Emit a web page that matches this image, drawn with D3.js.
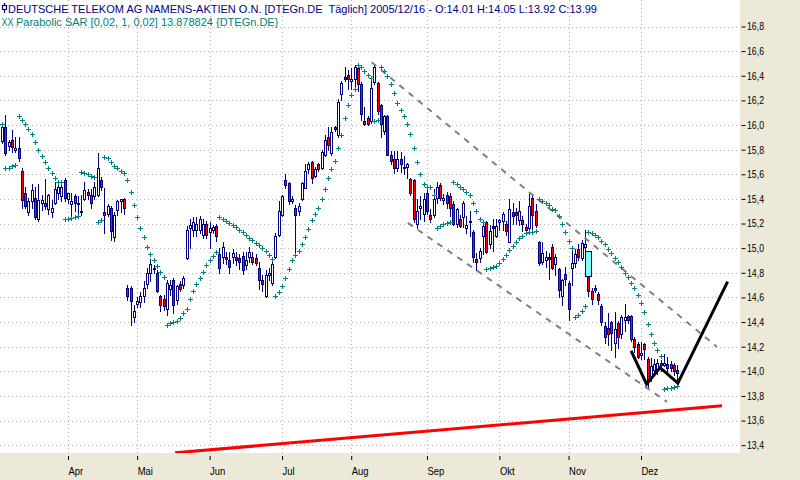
<!DOCTYPE html>
<html><head><meta charset="utf-8">
<script src="https://cdn.jsdelivr.net/npm/d3@7"></script>
<style>
html,body{margin:0;padding:0;background:#ECE9D8;}
svg{display:block;font-family:"Liberation Sans",Arial,sans-serif;}
</style></head><body>
<svg id="chart" width="800" height="480"></svg>
<script>
// ---- data (day index 0 = 1 Apr 2005, trading days) ----
const firstDay = -20;
const monthLabels = ["Apr","Mai","Jun","Jul","Aug","Sep","Okt","Nov","Dez"];
const monthStarts = [0,21,43,65,86,109,131,152,174];
const yTicks = [13.4,13.6,13.8,14.0,14.2,14.4,14.6,14.8,15.0,15.2,15.4,15.6,15.8,16.0,16.2,16.4,16.6,16.8];
const titleLine = "DEUTSCHE TELEKOM AG NAMENS-AKTIEN O.N. [DTEGn.DE  Täglich] 2005/12/16 - O:14.01 H:14.05 L:13.92 C:13.99";
const titleSar = "Parabolic SAR [0,02, 1, 0,02] 13.878824 {DTEGn.DE}";

const opens = [
15.87,15.98,15.83,15.88,15.80,15.81,15.63,15.45,15.29,15.38,
15.41,15.24,15.37,15.37,15.32,15.29,15.37,15.45,15.42,15.55,
15.40,15.36,15.42,15.37,15.29,15.40,15.46,15.43,15.42,15.43,
15.55,15.29,15.28,15.33,15.09,15.31,15.38,15.40,14.68,14.68,
14.44,14.55,14.56,14.61,14.71,14.80,14.84,14.80,14.61,14.59,
14.51,14.67,14.74,14.58,14.71,14.70,14.92,15.16,15.15,15.15,
15.15,15.11,15.20,15.13,15.15,15.18,14.95,14.93,14.93,14.90,
14.93,14.93,14.92,14.94,14.86,14.93,14.93,14.92,14.84,14.74,
14.61,14.78,14.72,14.93,15.11,15.27,15.55,15.53,15.38,15.33,
15.30,15.40,15.49,15.64,15.70,15.59,15.68,15.65,15.76,15.90,
15.77,15.98,15.92,16.25,16.39,16.41,16.36,16.37,16.46,16.33,
16.03,16.06,16.03,16.35,16.34,16.16,15.95,16.07,15.76,15.72,
15.65,15.72,15.65,15.66,15.56,15.55,15.20,15.33,15.28,15.45,
15.27,15.27,15.41,15.51,15.39,15.43,15.42,15.36,15.20,15.24,
15.25,15.16,15.22,15.13,14.91,14.92,15.10,15.21,15.03,15.18,
15.10,15.21,15.22,15.20,15.05,15.29,15.29,15.23,15.23,15.17,
15.16,15.41,15.30,15.05,14.89,14.90,14.93,15.01,14.87,14.83,
14.61,14.79,14.72,14.84,14.88,14.99,14.92,15.01,14.77,14.65,
14.68,14.63,14.53,14.37,14.35,14.40,14.23,14.39,14.30,14.42,
14.45,14.45,14.26,14.22,14.13,14.22,14.10,13.96,14.01,14.02,
14.07,14.05,14.06,14.06,14.05,14.01];
const highs = [
16.02,16.08,15.88,15.96,15.90,15.90,15.65,15.50,15.41,15.52,
15.50,15.52,15.43,15.56,15.44,15.39,15.54,15.55,15.53,15.57,
15.45,15.45,15.44,15.42,15.43,15.54,15.48,15.48,15.54,15.77,
15.58,15.49,15.36,15.34,15.29,15.39,15.40,15.41,14.70,14.69,
14.54,14.60,14.64,14.73,14.84,14.91,14.86,14.82,14.62,14.62,
14.74,14.74,14.76,14.70,14.73,14.77,15.18,15.24,15.25,15.25,
15.26,15.24,15.22,15.21,15.19,15.20,15.00,15.05,14.97,14.97,
14.99,14.97,14.95,14.97,14.97,15.01,14.97,14.95,14.89,14.78,
14.82,14.84,14.90,15.12,15.38,15.43,15.60,15.54,15.42,15.35,
15.37,15.54,15.68,15.70,15.71,15.66,15.69,15.80,15.92,15.98,
15.98,15.99,16.21,16.36,16.47,16.45,16.46,16.49,16.50,16.35,
16.15,16.07,16.38,16.49,16.35,16.17,16.08,16.08,15.79,15.79,
15.79,15.78,15.75,15.69,15.57,15.56,15.40,15.42,15.45,15.50,
15.32,15.48,15.54,15.53,15.44,15.46,15.45,15.38,15.33,15.27,
15.38,15.26,15.30,15.15,14.96,15.00,15.20,15.22,15.19,15.24,
15.24,15.24,15.29,15.22,15.40,15.37,15.33,15.38,15.26,15.20,
15.44,15.43,15.36,15.06,15.05,14.98,14.96,15.03,14.95,14.84,
14.75,14.85,14.73,14.99,14.99,15.03,15.07,15.15,14.77,14.68,
14.70,14.64,14.55,14.40,14.47,14.41,14.48,14.41,14.46,14.55,
14.46,14.46,14.28,14.24,14.24,14.23,14.12,14.11,14.10,14.10,
14.09,14.14,14.12,14.08,14.07,14.05];
const lows = [
15.85,15.76,15.80,15.78,15.78,15.71,15.33,15.33,15.27,15.33,
15.24,15.22,15.31,15.32,15.28,15.25,15.36,15.40,15.38,15.38,
15.37,15.24,15.30,15.25,15.27,15.39,15.40,15.33,15.40,15.42,
15.47,15.12,15.26,15.07,15.06,15.27,15.29,15.28,14.58,14.38,
14.40,14.52,14.52,14.56,14.68,14.73,14.80,14.64,14.49,14.50,
14.46,14.62,14.47,14.55,14.65,14.68,14.91,15.00,15.10,15.10,
15.12,15.08,15.08,15.00,15.12,15.06,14.80,14.88,14.87,14.80,
14.88,14.86,14.83,14.79,14.83,14.89,14.87,14.86,14.67,14.65,
14.60,14.74,14.70,14.92,15.10,15.26,15.49,15.36,15.37,14.97,
15.27,15.39,15.49,15.61,15.53,15.58,15.63,15.64,15.75,15.80,
15.76,15.95,15.90,16.20,16.36,16.29,16.29,16.28,16.28,16.04,
16.00,16.00,16.02,16.33,16.09,15.90,15.93,15.76,15.68,15.61,
15.63,15.62,15.60,15.57,15.43,15.21,15.16,15.24,15.22,15.28,
15.21,15.25,15.37,15.39,15.36,15.33,15.26,15.19,15.17,15.17,
15.17,15.12,15.10,14.89,14.82,14.89,14.95,14.96,15.00,14.98,
15.09,15.15,15.15,15.11,15.05,15.20,15.20,15.19,15.14,15.12,
15.15,15.14,15.17,14.86,14.87,14.85,14.75,14.83,14.78,14.60,
14.54,14.70,14.42,14.70,14.85,14.90,14.90,14.98,14.61,14.55,
14.64,14.55,14.38,14.23,14.21,14.17,14.12,14.19,14.27,14.33,
14.39,14.25,14.16,14.11,14.10,14.10,13.855,13.92,13.99,13.98,
14.00,14.04,13.99,14.00,13.97,13.92];
const closes = [
15.98,15.77,15.86,15.82,15.81,15.73,15.39,15.34,15.38,15.47,
15.25,15.39,15.39,15.34,15.43,15.33,15.48,15.50,15.50,15.41,
15.45,15.38,15.37,15.36,15.30,15.47,15.43,15.37,15.50,15.65,
15.50,15.27,15.34,15.14,15.27,15.38,15.40,15.33,14.61,14.57,
14.49,14.57,14.61,14.68,14.80,14.87,14.83,14.65,14.54,14.53,
14.72,14.70,14.54,14.69,14.67,14.76,15.15,15.19,15.21,15.20,
15.24,15.20,15.11,15.16,15.17,15.10,14.84,15.01,14.91,14.85,
14.96,14.90,14.89,14.82,14.90,14.97,14.89,14.88,14.74,14.71,
14.78,14.80,14.87,15.10,15.30,15.42,15.51,15.38,15.40,15.27,
15.34,15.53,15.63,15.68,15.57,15.64,15.64,15.78,15.88,15.84,
15.94,15.97,16.19,16.34,16.37,16.37,16.37,16.47,16.33,16.09,
16.01,16.01,16.30,16.47,16.11,16.01,16.07,15.76,15.71,15.65,
15.72,15.68,15.66,15.68,15.45,15.24,15.30,15.34,15.40,15.30,
15.24,15.40,15.50,15.41,15.41,15.37,15.33,15.20,15.32,15.18,
15.37,15.19,15.21,14.93,14.89,14.98,15.18,14.97,15.14,15.16,
15.18,15.23,15.28,15.14,15.32,15.26,15.27,15.30,15.20,15.15,
15.34,15.27,15.19,14.88,14.96,14.93,14.91,14.84,14.93,14.66,
14.74,14.75,14.51,14.88,14.95,14.93,15.04,15.03,14.65,14.59,
14.66,14.58,14.40,14.28,14.30,14.31,14.34,14.28,14.44,14.44,
14.42,14.26,14.20,14.12,14.15,14.18,13.93,14.04,14.06,14.07,
14.05,14.07,14.03,14.03,14.00,13.99];
const sar = [
16.01,15.65,15.655,15.665,15.673,16.07,16.04,16.01,15.965,15.925,
15.865,15.80,15.745,15.70,15.65,15.61,15.57,15.54,15.535,15.237,
15.24,15.245,15.25,15.26,15.62,15.61,15.60,15.59,15.58,15.215,
15.23,15.74,15.73,15.70,15.67,15.65,15.63,15.61,15.55,15.46,
15.35,15.25,15.16,15.09,15.01,14.95,14.90,14.856,14.807,14.765,
14.38,14.39,14.40,14.41,14.43,14.47,14.51,14.585,14.65,14.71,
14.76,14.81,14.86,14.90,14.94,14.97,15.25,15.235,15.22,15.205,
15.19,15.17,15.15,15.13,15.105,15.085,15.065,15.045,15.025,15.00,
14.975,14.945,14.915,14.615,14.64,14.69,14.76,14.83,14.90,14.945,
14.98,15.03,15.09,15.156,15.226,15.28,15.33,15.40,15.48,15.57,
15.643,15.708,15.81,15.92,16.06,16.163,16.24,16.29,16.49,16.475,
16.44,16.41,16.385,16.03,16.04,16.47,16.435,16.40,16.33,16.26,
16.18,16.12,16.07,16.006,15.925,15.81,15.70,15.60,15.52,15.50,
15.50,15.435,15.16,15.18,15.197,15.208,15.215,15.54,15.52,15.50,
15.48,15.456,15.43,15.365,15.30,15.24,15.21,14.83,14.84,14.85,
14.856,14.88,14.91,14.945,14.985,15.018,15.053,15.08,15.10,15.12,
15.13,15.13,15.14,15.40,15.385,15.37,15.35,15.32,15.31,15.26,
15.20,15.135,15.06,15.00,14.44,14.46,14.49,14.53,15.13,15.12,
15.105,15.09,15.06,15.03,14.996,14.964,14.923,14.89,14.85,14.80,
14.765,14.72,14.675,14.62,14.558,14.485,14.385,14.304,14.233,14.174,
14.125,13.855,13.862,13.868,13.873,13.879];
const gapDays = [158];
// drawn trend lines: [day index, price]
const channelUpper = [[92.2,16.51],[197,14.20]];
const channelLower = [[103.2,15.205],[181.9,13.752]];
const supportLine = [[32.5,13.338],[198.6,13.72]];
const zigzag = [[171,14.166],[175.7,13.896],[179.8,14.03],[185.2,13.904],[200.3,14.729]];

// ---- drawing ----
const W = 800, H = 480, plotR = 740, plotB = 453;
const NAVY = "#000080", TEAL = "#008080";
const svg = d3.select("#chart");
svg.append("rect").attr("width", W).attr("height", H).attr("fill", "#ECE9D8");
svg.append("rect").attr("width", plotR).attr("height", plotB).attr("fill", "#fff");
svg.append("defs").append("clipPath").attr("id", "clip")
  .append("rect").attr("width", plotR).attr("height", plotB);

const x = d3.scaleLinear().domain([0, 174]).range([68, 641]);
const y = d3.scaleLinear().domain([13.4, 16.8]).range([445.2, 26.5]);
const px = v => Math.round(v) + 0.5;

const candles = opens.map((o, k) => ({day: firstDay + k, o, h: highs[k], l: lows[k], c: closes[k], s: sar[k]}));

function condense(sel, f) {
  sel.each(function() {
    const n = this.getComputedTextLength();
    d3.select(this).attr("textLength", n * f).attr("lengthAdjust", "spacingAndGlyphs");
  });
}

// grid
const grid = svg.append("g").attr("stroke", "#b4b4b4").attr("stroke-width", 1).attr("stroke-dasharray", "1,3");
grid.selectAll("line.h").data(yTicks).join("line").attr("class", "h")
  .attr("x1", 0).attr("x2", plotR).attr("y1", d => px(y(d))).attr("y2", d => px(y(d)));
grid.selectAll("line.v").data(monthStarts).join("line").attr("class", "v")
  .attr("y1", 0).attr("y2", plotB).attr("x1", d => px(x(d))).attr("x2", d => px(x(d)));

// header
const hdr = svg.append("g").attr("font-size", "11px").style("white-space", "pre");
hdr.append("line").attr("x1", 4.5).attr("x2", 4.5).attr("y1", 3).attr("y2", 13).attr("stroke", NAVY).attr("stroke-width", 1.2);
hdr.append("rect").attr("x", 2.5).attr("y", 5.5).attr("width", 4).attr("height", 4).attr("fill", "#fff").attr("stroke", NAVY).attr("stroke-width", 1.2);
hdr.append("text").attr("x", 8).attr("y", 12.5).attr("fill", NAVY).attr("xml:space", "preserve").text(titleLine);
hdr.append("text").attr("x", 1.5).attr("y", 25.5).attr("fill", TEAL).attr("font-size", "10px").text("XX")
  .attr("textLength", 12).attr("lengthAdjust", "spacingAndGlyphs");
hdr.append("text").attr("x", 16).attr("y", 25.5).attr("fill", TEAL).text(titleSar);

// plot content
const plot = svg.append("g").attr("clip-path", "url(#clip)");
const line = d3.line().x(d => x(d[0])).y(d => y(d[1]));

// support line (red)
plot.append("path").attr("d", line(supportLine)).attr("fill", "none").attr("stroke", "#ff0000").attr("stroke-width", 3);

// candles
const cg = plot.append("g");
cg.selectAll("line.wick").data(candles).join("line").attr("class", "wick")
  .attr("x1", d => px(x(d.day))).attr("x2", d => px(x(d.day)))
  .attr("y1", d => Math.round(y(d.h))).attr("y2", d => Math.round(y(d.l)) + 1)
  .attr("stroke", NAVY).attr("stroke-width", 1);
cg.selectAll("rect.body").data(candles).join("rect").attr("class", "body")
  .attr("x", d => Math.round(x(d.day)) - 0.5).attr("width", 2)
  .attr("y", d => px(y(Math.max(d.o, d.c))))
  .attr("height", d => Math.max(1, Math.round(y(Math.min(d.o, d.c))) - Math.round(y(Math.max(d.o, d.c)))))
  .attr("fill", d => d.c >= d.o ? "#ffffff" : "#ff0000")
  .attr("stroke", NAVY).attr("stroke-width", 1);

// gap marker
plot.selectAll("rect.gap").data(gapDays).join("rect").attr("class", "gap")
  .attr("x", d => Math.round(x(d)) - 2.5).attr("width", 6)
  .attr("y", d => px(y(lows[d - 1 - firstDay])))
  .attr("height", d => Math.round(y(highs[d - firstDay])) - Math.round(y(lows[d - 1 - firstDay])))
  .attr("fill", "#80ffff").attr("stroke", NAVY).attr("stroke-width", 1);

// channel (gray dashed)
[channelUpper, channelLower].forEach(seg => {
  plot.append("path").attr("d", line(seg)).attr("fill", "none")
    .attr("stroke", "#808080").attr("stroke-width", 2).attr("stroke-dasharray", "6,6");
});

// SAR markers
plot.selectAll("path.sar").data(candles).join("path").attr("class", "sar")
  .attr("d", d => { const cx = px(x(d.day)), cy = px(y(d.s)), r = 2.5;
    return `M${cx - r},${cy}H${cx + r}M${cx},${cy - r}V${cy + r}`; })
  .attr("stroke", TEAL).attr("stroke-width", 1).attr("fill", "none")
  .attr("shape-rendering", "crispEdges");

// zigzag (black)
plot.append("path").attr("d", line(zigzag)).attr("fill", "none").attr("stroke", "#000")
  .attr("stroke-width", 3).attr("stroke-linejoin", "miter");

// y axis (right)
const yAxis = d3.axisRight(y).tickValues(yTicks).tickSize(4)
  .tickFormat(d => d.toFixed(1).replace(".", ","));
const ya = svg.append("g").attr("transform", "translate(741.5,0)").call(yAxis);
ya.select(".domain").remove();
ya.selectAll(".tick line").attr("stroke", "#000");
ya.selectAll(".tick text").attr("x", 5.5).attr("font-size", "10.5px").attr("font-family", "Liberation Sans, Arial, sans-serif").attr("fill", "#000")
  .attr("textLength", 17).attr("lengthAdjust", "spacingAndGlyphs");

// x axis (bottom)
const xAxis = d3.axisBottom(x).tickValues(monthStarts).tickSizeInner(4).tickSizeOuter(0)
  .tickFormat((d, i) => monthLabels[i]);
const xa = svg.append("g").attr("transform", "translate(0,456)").call(xAxis);
xa.select(".domain").remove();
xa.selectAll(".tick line").attr("stroke", "#000");
xa.selectAll(".tick text").attr("y", 19).attr("dy", null).attr("text-anchor", "start")
  .attr("font-size", "10.5px").attr("font-family", "Liberation Sans, Arial, sans-serif").attr("fill", "#000")
  .call(condense, 0.9);
</script>
</body></html>
